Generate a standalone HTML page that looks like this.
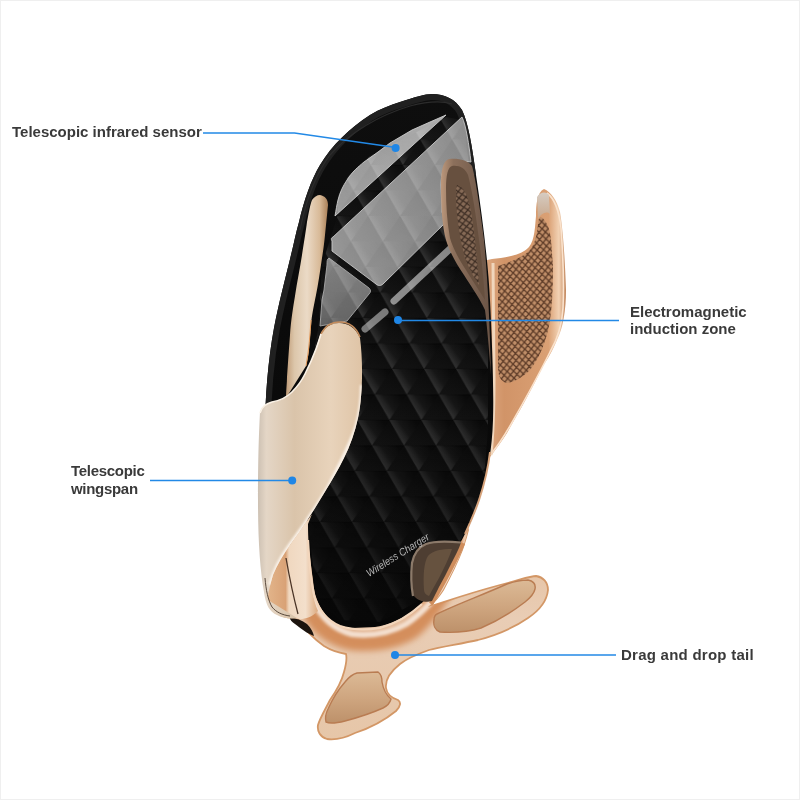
<!DOCTYPE html>
<html><head><meta charset="utf-8">
<style>
html,body{margin:0;padding:0;background:#fff;}
body{width:800px;height:800px;position:relative;overflow:hidden;font-family:"Liberation Sans",sans-serif;}
.frame{position:absolute;left:0;top:0;width:800px;height:800px;box-sizing:border-box;border:1px solid #efefef;}
svg{position:absolute;left:0;top:0;}
.lbl{position:absolute;font-weight:bold;font-size:15px;color:#383838;line-height:17.5px;white-space:nowrap;opacity:0.99;}
</style></head><body>
<div class="frame"></div>
<svg width="800" height="800" viewBox="0 0 800 800">
<defs>
  <linearGradient id="gArmR" x1="0" y1="0" x2="1" y2="0">
    <stop offset="0" stop-color="#e2b08a"/>
    <stop offset="0.3" stop-color="#d19468"/>
    <stop offset="0.8" stop-color="#daa074"/>
    <stop offset="0.92" stop-color="#f2d2b4"/>
    <stop offset="1" stop-color="#c0845a"/>
  </linearGradient>
  <pattern id="pDots" patternUnits="userSpaceOnUse" width="6.4" height="7" patternTransform="rotate(-4)">
    <rect width="6.4" height="7" fill="#c08e68"/>
    <path d="M0,0 L6.4,7 M6.4,0 L0,7 M-3.2,3.5 L0,7 M9.6,3.5 L6.4,7" stroke="#5e3c28" stroke-width="1.3" fill="none"/>
  </pattern>
  <pattern id="pDotsDark" patternUnits="userSpaceOnUse" width="7" height="6.5" patternTransform="rotate(-8)">
    <rect width="7" height="6.5" fill="#866a56"/>
    <path d="M0,0 L7,6.5 M7,0 L0,6.5" stroke="#3e2e24" stroke-width="1.2" fill="none"/>
  </pattern>
  <linearGradient id="gBody" x1="0" y1="0" x2="0" y2="1">
    <stop offset="0" stop-color="#0e0e0e"/>
    <stop offset="1" stop-color="#070707"/>
  </linearGradient>
  <linearGradient id="gWing" x1="258" y1="0" x2="362" y2="0" gradientUnits="userSpaceOnUse">
    <stop offset="0" stop-color="#cdc1b3"/>
    <stop offset="0.08" stop-color="#e4d6c6"/>
    <stop offset="0.35" stop-color="#dac4aa"/>
    <stop offset="0.7" stop-color="#e8d3bb"/>
    <stop offset="1" stop-color="#dfc4a6"/>
  </linearGradient>
  <linearGradient id="gThin" x1="0" y1="0" x2="1" y2="0">
    <stop offset="0" stop-color="#c09c78"/>
    <stop offset="0.2" stop-color="#dcc6aa"/>
    <stop offset="0.5" stop-color="#ebdac6"/>
    <stop offset="0.8" stop-color="#d8ba98"/>
    <stop offset="1" stop-color="#aa8058"/>
  </linearGradient>
  <linearGradient id="gFrame" x1="0" y1="520" x2="0" y2="740" gradientUnits="userSpaceOnUse">
    <stop offset="0" stop-color="#e4bc98"/>
    <stop offset="0.45" stop-color="#e9cdb5"/>
    <stop offset="1" stop-color="#e6c6a8"/>
  </linearGradient>
  <linearGradient id="gPadT" x1="0" y1="0" x2="0" y2="1">
    <stop offset="0" stop-color="#dcba96"/>
    <stop offset="0.5" stop-color="#cfa680"/>
    <stop offset="1" stop-color="#bd916a"/>
  </linearGradient>
  <linearGradient id="gGray" x1="0" y1="0" x2="1" y2="1">
    <stop offset="0" stop-color="#a2a2a2"/>
    <stop offset="1" stop-color="#7c7c7c"/>
  </linearGradient>
  <linearGradient id="gPA" x1="0" y1="0" x2="1" y2="0">
    <stop offset="0" stop-color="#959595"/>
    <stop offset="1" stop-color="#b0b0b0"/>
  </linearGradient>
  <linearGradient id="gPC" x1="0" y1="0" x2="0" y2="1">
    <stop offset="0" stop-color="#888888"/>
    <stop offset="1" stop-color="#5e5e5e"/>
  </linearGradient>
  <linearGradient id="gInner" x1="268" y1="0" x2="318" y2="0" gradientUnits="userSpaceOnUse">
    <stop offset="0" stop-color="#e2b48a"/>
    <stop offset="0.35" stop-color="#d9a276"/>
    <stop offset="0.42" stop-color="#f0d8c0"/>
    <stop offset="0.75" stop-color="#f3dfcb"/>
    <stop offset="1" stop-color="#dcaa80"/>
  </linearGradient>
  <linearGradient id="gBrPiece" x1="0" y1="0" x2="1" y2="1">
    <stop offset="0" stop-color="#5e4a3e"/>
    <stop offset="1" stop-color="#3e3028"/>
  </linearGradient>
  <linearGradient id="gBronze" x1="0" y1="0" x2="1" y2="0">
    <stop offset="0" stop-color="#bc987c"/>
    <stop offset="0.25" stop-color="#8c705c"/>
    <stop offset="1" stop-color="#6a5446"/>
  </linearGradient>
  <linearGradient id="gDown" x1="0.25" y1="0.5" x2="0.9" y2="0.1">
    <stop offset="0" stop-color="#fff" stop-opacity="0.15"/>
    <stop offset="0.35" stop-color="#fff" stop-opacity="0.05"/>
    <stop offset="1" stop-color="#fff" stop-opacity="0"/>
  </linearGradient>
  <linearGradient id="gUp" x1="0" y1="1" x2="0.6" y2="0">
    <stop offset="0" stop-color="#fff" stop-opacity="0.04"/>
    <stop offset="1" stop-color="#000" stop-opacity="0.05"/>
  </linearGradient>
  <pattern id="pTri" patternUnits="userSpaceOnUse" width="32" height="51" patternTransform="translate(9.57,37.5) skewX(-3.03)">
    <polygon points="0,0 32,0 16,25.5" fill="url(#gDown)"/>
    <polygon points="16,25.5 48,25.5 32,51" fill="url(#gDown)"/>
    <polygon points="-16,25.5 16,25.5 0,51" fill="url(#gDown)"/>
    <polygon points="32,0 16,25.5 48,25.5" fill="url(#gUp)"/>
    <polygon points="0,0 -16,25.5 16,25.5" fill="url(#gUp)"/>
    <polygon points="16,25.5 0,51 32,51" fill="url(#gUp)"/>
  </pattern>
  <pattern id="pLines" patternUnits="userSpaceOnUse" width="32" height="51" patternTransform="translate(9.57,37.5) skewX(-3.03)">
    <rect x="0" y="0" width="32" height="0.9" fill="#000" fill-opacity="0.4"/>
    <rect x="0" y="25.1" width="32" height="0.9" fill="#000" fill-opacity="0.4"/>
  </pattern>
  <clipPath id="cScreen"><path d="M338,214 L338,196 C342,180 355,168 370,156 L446,117 L462,120 C466,140 470,170 474,200 L484,260 L488,330 L488,430 L484,480 L474,515 L458,545 L420,600 L380,622 L340,620 L317,600 L310,540 L308,505 L300,480 L305,400 L318,330 L322,265 Z"/></clipPath>
  <clipPath id="cBody"><path d="M432,94 C445,94 455,99 462,110 C468,122 472,145 476,175 C482,215 488,260 490,300 C492,340 494,390 493,420 C492,450 488,470 482,490 C478,505 472,520 466,532 C463,538 461,541 460,544 C450,565 435,590 420,605 C405,618 390,625 375,627 L352,628 C340,627 330,622 325,614 C318,605 314,595 313,580 C311,565 309,550 308,540 C307,530 307,520 308,505 C295,480 280,450 265,430 C265,398 268,360 274,328 C279,302 285,280 291,255 C294,243 296,232 299,222 C304,200 311,180 320,165 C332,145 350,128 370,115 C380,109 390,105 400,102 C415,97 425,94 432,94 Z"/></clipPath>
  <filter id="blur3" x="-20%" y="-20%" width="140%" height="140%"><feGaussianBlur stdDeviation="3"/></filter>
  <filter id="blur15" x="-20%" y="-20%" width="140%" height="140%"><feGaussianBlur stdDeviation="1.5"/></filter>
  <filter id="blur1" x="-20%" y="-20%" width="140%" height="140%"><feGaussianBlur stdDeviation="1"/></filter>
  <clipPath id="cFrame"><path d="M290,500 L460,500 L468,530 C466,538 464,544 462,550 C457,563 450,577 443,590 C438,598 433,603 428,607 C450,600 470,593 500,585 C520,580 530,576 536,576 C543,577 548,582 548,590 C547,600 540,610 528,618 C515,627 497,635 478,640 C460,644 440,647 429,650 C415,655 405,660 400,664 C390,672 385,680 386,688 C387,695 392,698 398,700 C401,702 401,706 396,711 C385,720 370,728 355,733 C345,738 335,740 327,739 C320,737 317,731 318,725 C320,718 325,710 330,700 C337,690 342,680 344,672 C346,665 347,658 346,654 C340,653 332,651 324,646 C314,639 305,630 297,618 C285,618 275,614 270,606 L268,585 Z"/></clipPath>
  <linearGradient id="gFade" x1="0" y1="110" x2="0" y2="630" gradientUnits="userSpaceOnUse">
    <stop offset="0" stop-color="#fff"/>
    <stop offset="0.62" stop-color="#fff"/>
    <stop offset="1" stop-color="#444"/>
  </linearGradient>
  <mask id="mFade" maskUnits="userSpaceOnUse" x="0" y="0" width="800" height="800"><rect x="290" y="110" width="210" height="520" fill="url(#gFade)"/></mask>
  <clipPath id="cWing"><path d="M339,323 C348,323 356,328 360,338 C363,360 363,395 358,418 C355,432 350,446 344,458 C338,470 332,480 326,490 C320,500 314,510 308,519 C302,528 296,537 290,545 C283,555 277,565 273,575 C270,585 268,593 268,600 L297,618 C290,619 282,618 277,615 C270,612 266,606 264,592 C260,570 258,540 258,500 C258,460 259,430 260,412 C262,406 266,404 272,402 C278,401 285,399 292,392 C298,386 302,380 305,374 C309,366 313,357 316,348 C318,342 319,338 321,333 C325,327 332,323 339,323 Z"/></clipPath>
  <linearGradient id="gTip" x1="0" y1="0" x2="0" y2="1">
    <stop offset="0" stop-color="#d6ccc2"/>
    <stop offset="1" stop-color="#c9a88c"/>
  </linearGradient>
</defs>

<!-- right gold arm (back) -->
<path d="M544,189 C551,192 557,200 560,212 C563,230 565,260 566,290 C566,310 563,328 557,340 C552,352 548,358 543,366 C537,378 531,390 525,401 C519,412 513,422 507,433 C502,441 496,449 490,457 L478,458 L478,262 L492,259 C505,258 522,255 529,247 C535,240 535,225 536,216 C536,205 537,192 544,189 Z" fill="url(#gArmR)"/>
<path d="M547,193 C555,199 559,210 561,228 C563,255 564,285 563,308 C562,326 557,340 550,352 C540,372 525,400 510,426 C503,438 497,447 491,454" stroke="#fae2cc" stroke-width="1.6" fill="none"/>
<path d="M493,263 L494,380 C494,410 493,435 491,455" stroke="#f0d6bc" stroke-width="3" fill="none"/>
<path d="M541,217 C546,220 550,228 551,240 L553,266 C553,290 552,310 549,326 C545,345 538,360 530,370 C522,378 514,382 507,383 C501,382 498,376 498,368 L498,266 C510,262 522,258 530,250 C536,243 537,232 538,224 C538,220 539,218 541,217 Z" fill="url(#pDots)"/>
<path d="M537,197 C540,192 546,191 549,195 L550,214 C547,211 541,213 538,219 Z" fill="url(#gTip)"/>

<!-- frame + tail -->
<path d="M290,500 L460,500 L468,530 C466,538 464,544 462,550 C457,563 450,577 443,590 C438,598 433,603 428,607 C450,600 470,593 500,585 C520,580 530,576 536,576 C543,577 548,582 548,590 C547,600 540,610 528,618 C515,627 497,635 478,640 C460,644 440,647 429,650 C415,655 405,660 400,664 C390,672 385,680 386,688 C387,695 392,698 398,700 C401,702 401,706 396,711 C385,720 370,728 355,733 C345,738 335,740 327,739 C320,737 317,731 318,725 C320,718 325,710 330,700 C337,690 342,680 344,672 C346,665 347,658 346,654 C340,653 332,651 324,646 C314,639 305,630 297,618 C285,618 275,614 270,606 L268,585 Z" fill="url(#gFrame)" stroke="#d39766" stroke-width="1.8"/>
<path d="M298,530 C299,560 302,590 310,608 C318,625 332,636 350,640 C370,643 392,640 410,630 C425,618 437,600 446,585 C453,572 459,558 464,540" stroke="#d48e5c" stroke-width="20" fill="none" filter="url(#blur3)" clip-path="url(#cFrame)"/>
<path d="M304,530 C305,560 308,588 315,604 C322,618 335,630 352,634 C370,636 390,633 406,624 C424,612 440,593 452,572 C460,558 466,545 470,532" stroke="#f4e0d0" stroke-width="6" fill="none" filter="url(#blur15)" clip-path="url(#cFrame)"/>
<path d="M437,614 C455,605 480,596 507,584 C515,581 522,580 528,580 C533,581 536,584 535,589 C534,594 530,598 525,602 C512,612 495,622 481,628 C468,632 455,633 440,632 C435,630 433,625 434,620 C434,617 435,615 437,614 Z" fill="url(#gPadT)" stroke="#b97c52" stroke-width="1.4"/>
<path d="M357,673 L378,672 C381,674 382,678 382,682 C383,688 385,694 391,699 C390,703 387,706 383,708 C372,713 360,717 345,721 C337,723 330,724 326,722 C325,718 326,713 328,709 C332,700 338,690 345,682 C349,677 353,674 357,673 Z" fill="url(#gPadT)" stroke="#b97c52" stroke-width="1.4"/>

<!-- black body -->
<path id="body" d="M432,94 C445,94 455,99 462,110 C468,122 472,145 476,175 C482,215 488,260 490,300 C492,340 494,390 493,420 C492,450 488,470 482,490 C478,505 472,520 466,532 C463,538 461,541 460,544 C450,565 435,590 420,605 C405,618 390,625 375,627 L352,628 C340,627 330,622 325,614 C318,605 314,595 313,580 C311,565 309,550 308,540 C307,530 307,520 308,505 C295,480 280,450 265,430 C265,398 268,360 274,328 C279,302 285,280 291,255 C294,243 296,232 299,222 C304,200 311,180 320,165 C332,145 350,128 370,115 C380,109 390,105 400,102 C415,97 425,94 432,94 Z" fill="url(#gBody)"/>

<path d="M432,94 C445,94 455,99 462,110 C468,122 472,145 476,175 M308,505 C295,480 280,450 265,430 C265,398 268,360 274,328 C279,302 285,280 291,255 C294,243 296,232 299,222 C304,200 311,180 320,165 C332,145 350,128 370,115 C380,109 390,105 400,102 C415,97 425,94 432,94" stroke="#202020" stroke-width="12" fill="none" clip-path="url(#cBody)"/>
<path d="M300,230 C306,200 315,175 330,155 C350,132 380,115 410,106 C425,102 440,100 452,104" stroke="#2c2c2c" stroke-width="1.2" fill="none"/>

<path d="M490,452 C488,470 484,485 479,500 C475,512 470,523 465,534" stroke="#d6a27a" stroke-width="2" fill="none"/>

<!-- left inner frame piece -->
<path d="M312,514 L299,532 L290,545 L281,556 L274,570 L268,594 L270,608 C276,615 288,618 300,619 C306,619 312,617 318,611 C313,600 311,585 310,565 C309,550 308,538 308,524 Z" fill="url(#gInner)"/>
<path d="M286,558 C289,575 293,595 298,614" stroke="#4a3426" stroke-width="1.3" fill="none"/>
<path d="M308,540 C309,560 311,580 314,595 C318,608 326,620 340,626 C352,630 368,630 380,628 C395,624 410,615 422,604" stroke="#f3d6bc" stroke-width="2.2" fill="none"/>

<!-- gray panels -->
<rect x="290" y="110" width="210" height="520" fill="url(#pLines)" clip-path="url(#cScreen)"/>
<g clip-path="url(#cBody)">
<path d="M335,216 C336,210 337,204 338,200 C340,192 343,186 347,180 C352,172 358,167 364,162 L378,152 L390,143 L412,130 L430,122 L446,115 Z" fill="url(#gPA)" stroke="#cdcdcd" stroke-width="0.9"/>
<path d="M332,241 C331,239 331,238 333,237 L462,117 C466,125 469,145 471,162 L449,160 C444,165 441,175 441,185 L442,212 L446,222 L383,284 C381,286 378,286 376,284 L332,251 Z" fill="url(#gGray)" stroke="#c8c8c8" stroke-width="0.9"/>
<path d="M329,258 L369,288 C371,290 371,292 369,294 L347,321 L320,326 L322,300 L324,290 L327,265 C327,261 327,259 329,258 Z" fill="url(#gPC)" stroke="#a8a8a8" stroke-width="0.9"/>
<path d="M394,301 L452,247" stroke="#8a8a8a" stroke-width="7" stroke-linecap="round"/>
<path d="M365,329 L385,312" stroke="#7a7a7a" stroke-width="7" stroke-linecap="round"/>
</g>
<rect x="290" y="110" width="210" height="520" fill="url(#pTri)" clip-path="url(#cScreen)" mask="url(#mFade)"/>

<!-- inner bronze arm -->
<path d="M449,159 C458,158 468,160 472,166 C476,180 480,210 484,240 C487,270 490,320 491,375 C489,350 487,325 485,310 C478,295 470,285 464,275 C455,262 449,250 446,240 C442,225 441,205 441,185 C441,170 443,161 449,159 Z" fill="url(#gBronze)"/>
<path d="M452,166 C459,165 465,168 468,175 C472,190 476,215 479,240 C482,262 484,285 485,300 C479,290 472,280 466,270 C458,258 453,248 450,238 C447,222 446,205 446,188 C446,175 448,167 452,166 Z" fill="#67503f"/>
<path d="M457,185 C463,186 468,195 471,212 C474,230 477,255 479,285 C474,278 469,268 465,258 C460,240 457,220 456,200 C456,192 456,187 457,185 Z" fill="url(#pDotsDark)"/>

<!-- bottom-right bronze piece -->
<path d="M463,543 C460,550 456,558 452,566 C447,576 441,587 431,604" stroke="#cf8d5c" stroke-width="4.5" fill="none"/>
<path d="M411,570 C411,560 414,551 420,546 C426,542 436,541 446,542 C452,542 457,542 461,542.5 C459,549 455,556 451,564 C447,572 443,580 439,587 C436,593 434,597 432,601 C426,603 418,601 414,596 C412,590 411,580 411,570 Z" fill="#4e3e32"/>
<path d="M424,590 C423,575 424,562 428,556 C433,550 442,549 452,549 C449,558 444,568 439,578 C435,585 432,590 429,596 C426,595 424,593 424,590 Z" fill="#66523f"/>
<path d="M413,596 C411,585 411,572 412,563 C414,553 419,547 426,544 C434,541 446,541 461,542.5" stroke="#8c7a6a" stroke-width="2.2" fill="none"/>

<path d="M290,618 C296,618 302,620 307,624 C311,628 313,632 314,636 C308,634 300,628 295,624 C292,622 290,620 290,618 Z" fill="#1c140e"/>

<!-- left thin gold arm -->
<path d="M320,195 C325,196 328,199 328,205 C327,215 326,225 325,235 C324,245 323,252 322,258 C320,272 318,285 316,295 C314,305 312.5,312 311.5,320 C310.5,332 309.5,342 309,350 C308,358 307,362 306,366 L286,398 C286,390 287,383 287,377 C288,362 289,348 290,335 C291,320 293,308 295,296 C297,282 300,268 302,255 C304,242 306,230 307,222 C309,212 310,205 312,200 C314,197 317,195 320,195 Z" fill="url(#gThin)"/>

<!-- big wing -->
<path d="M339,323 C348,323 356,328 360,338 C363,360 363,395 358,418 C355,432 350,446 344,458 C338,470 332,480 326,490 C320,500 314,510 308,519 C302,528 296,537 290,545 C283,555 277,565 273,575 C270,585 268,593 268,600 L297,618 C290,619 282,618 277,615 C270,612 266,606 264,592 C260,570 258,540 258,500 C258,460 259,430 260,412 C262,406 266,404 272,402 C278,401 285,399 292,392 C298,386 302,380 305,374 C309,366 313,357 316,348 C318,342 319,338 321,333 C325,327 332,323 339,323 Z" fill="url(#gWing)"/>

<path d="M321,334 C325,326 331,322 340,322 C349,322 356,327 360,337" stroke="#c48c5c" stroke-width="1.6" fill="none"/>
<path d="M362,385 C362,400 360,415 356,428 C350,446 340,465 328,488 C318,505 305,525 290,545 C282,556 275,568 270,585" stroke="#fbf3ea" stroke-width="4" fill="none" filter="url(#blur1)" clip-path="url(#cWing)"/>

<path d="M321,334 C319,340 318,344 316,349 C313,357 309,366 305,374 C302,380 298,386 292,392 C285,399 278,401 272,402 C266,404 262,406 260,413" stroke="#fbf2e6" stroke-width="1.6" fill="none"/>
<path d="M311,320 C310,335 309,350 306,366" stroke="#e39a5a" stroke-width="1" fill="none"/>

<path d="M265,578 C266,590 268,600 272,607 C276,612 282,615 290,616" stroke="#4a3a2e" stroke-width="0.9" fill="none"/>

<!-- Wireless Charger text -->
<text x="0" y="0" transform="translate(369,577) rotate(-32)" font-family="Liberation Sans" font-style="italic" font-size="10.5" textLength="72" lengthAdjust="spacingAndGlyphs" fill="#b8b8b8" opacity="0.99">Wireless Charger</text>

<!-- leader lines -->
<g stroke="#2289e6" stroke-width="1.5" fill="none">
  <polyline points="203,133 294.5,133 396,147.5"/>
  <line x1="398" y1="320.5" x2="619" y2="320.5"/>
  <line x1="150" y1="480.4" x2="292" y2="480.4"/>
  <line x1="395" y1="655" x2="616" y2="655"/>
</g>
<g fill="#1f86e6">
  <circle cx="395.6" cy="148" r="4"/>
  <circle cx="398" cy="320" r="4"/>
  <circle cx="292.2" cy="480.4" r="4"/>
  <circle cx="395" cy="655" r="4"/>
</g>
</svg>
<div class="lbl" style="left:12px;top:122.5px;">Telescopic infrared sensor</div>
<div class="lbl" style="left:630px;top:302.5px;">Electromagnetic<br>induction zone</div>
<div class="lbl" style="left:71px;top:462px;letter-spacing:-0.3px;">Telescopic<br>wingspan</div>
<div class="lbl" style="left:621px;top:646px;letter-spacing:0.25px;">Drag and drop tail</div>
</body></html>
